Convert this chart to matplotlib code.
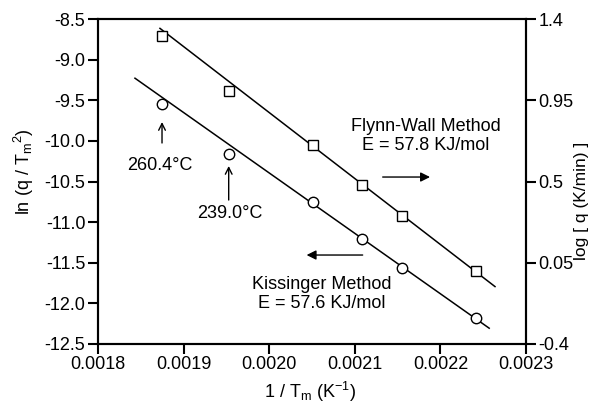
import numpy as np
import matplotlib.pyplot as plt

plt.rcParams['font.family'] = ['Liberation Sans', 'DejaVu Sans']
plt.rcParams['axes.unicode_minus'] = False
plt.rcParams['mathtext.fontset'] = 'custom'
plt.rcParams['mathtext.rm'] = 'Liberation Sans'
plt.rcParams['mathtext.it'] = 'Liberation Sans'

# 1/Tm for the six heating rates (20, 10, 5, 3, 2, 1 K/min)
inv_tm = [0.0018748, 0.0019527, 0.0020512, 0.0021084, 0.0021548, 0.0022416]
ln_q_tm2 = [-9.546, -10.165, -10.758, -11.211, -11.568, -12.176]
log_q = [1.3075, 1.003, 0.702, 0.479, 0.311, 0.004]

left_ticks = [-8.5, -9.0, -9.5, -10.0, -10.5, -11.0, -11.5, -12.0, -12.5]
right_ticks = [1.4, 0.95, 0.5, 0.05, -0.4]
right_labels = ['1.4', '0.95', '0.5', '0.05', '-0.4']
x_ticks = [0.0018, 0.0019, 0.0020, 0.0021, 0.0022, 0.0023]

fs = 13

fig = plt.figure(figsize=(5.91, 4.16), dpi=100)
ax = fig.add_axes([0.1658, 0.1731, 0.7242, 0.7812])
ax2 = ax.twinx()

x = np.array(inv_tm)
y1 = np.array(ln_q_tm2)
y2 = np.array(log_q)

# linear fits use the four lowest heating rates
k1 = np.polyfit(x[2:], y1[2:], 1)
k2 = np.polyfit(x[2:], y2[2:], 1)
xl1 = np.array([0.0018432, 0.002257])
xl2 = np.array([0.0018724, 0.0022638])

ax.plot(xl1, np.polyval(k1, xl1), color='black', lw=1.1)
ax.plot(x, y1, 'o', mfc='white', mec='black', ms=7.5, mew=1.0)
ax2.plot(xl2, np.polyval(k2, xl2), color='black', lw=1.1)
ax2.plot(x, y2, 's', mfc='white', mec='black', ms=6.5, mew=1.0)

ax.set_xlim(0.0018, 0.0023)
ax.set_ylim(-12.5, -8.5)
ax2.set_ylim(-0.4, 1.4)

ax.set_xticks(x_ticks)
ax.set_xticklabels(['%.4f' % v for v in x_ticks], fontsize=fs)
ax.set_yticks(left_ticks)
ax.set_yticklabels(['%.1f' % v for v in left_ticks], fontsize=fs)
ax2.set_yticks(right_ticks)
ax2.set_yticklabels(right_labels, fontsize=fs)

for a in (ax, ax2):
    for s in a.spines.values():
        s.set_linewidth(1.5)
ax.tick_params(axis='both', direction='out', length=7, width=1.5, pad=2)
ax2.tick_params(axis='y', direction='out', length=7, width=1.5, pad=2)

ax.set_xlabel(r'1 / T$_\mathregular{m}$ (K$^\mathregular{-1}$)', fontsize=fs)
ax.xaxis.set_label_coords(0.495, -0.11)
ax.set_ylabel(r'ln (q / T$_\mathregular{m}$$^\mathregular{2}$)', fontsize=fs)
ax.yaxis.set_label_coords(-0.145, 0.53)
ax2.set_ylabel('log [ q (K/min) ]', fontsize=12.5, rotation=90)
ax2.yaxis.set_label_coords(1.112, 0.44)

arr_open = dict(arrowstyle='->', color='black', lw=1.0, mutation_scale=12,
                shrinkA=0, shrinkB=0)
arr_fill = dict(arrowstyle='-|>', color='black', lw=1.0, mutation_scale=14,
                shrinkA=0, shrinkB=0)

ax.annotate('', xy=(inv_tm[0], -9.768), xytext=(inv_tm[0], -10.026), arrowprops=arr_open)
ax.text(0.0018724, -10.309, '260.4°C', fontsize=fs, ha='center', va='center')
ax.annotate('', xy=(inv_tm[1], -10.309), xytext=(inv_tm[1], -10.728), arrowprops=arr_open)
ax.text(0.0019542, -10.888, '239.0°C', fontsize=fs, ha='center', va='center')

ax.text(0.0021832, -9.94, 'Flynn-Wall Method\nE = 57.8 KJ/mol', fontsize=fs,
        ha='center', va='center', multialignment='center', linespacing=1.1)
ax.annotate('', xy=(0.0021879, -10.445), xytext=(0.0021326, -10.445), arrowprops=arr_fill)

ax.text(0.0020617, -11.885, 'Kissinger Method\nE = 57.6 KJ/mol', fontsize=fs,
        ha='center', va='center', multialignment='center', linespacing=1.1)
ax.annotate('', xy=(0.0020437, -11.405), xytext=(0.0021092, -11.405), arrowprops=arr_fill)

fig.savefig('out.png', dpi=100)
